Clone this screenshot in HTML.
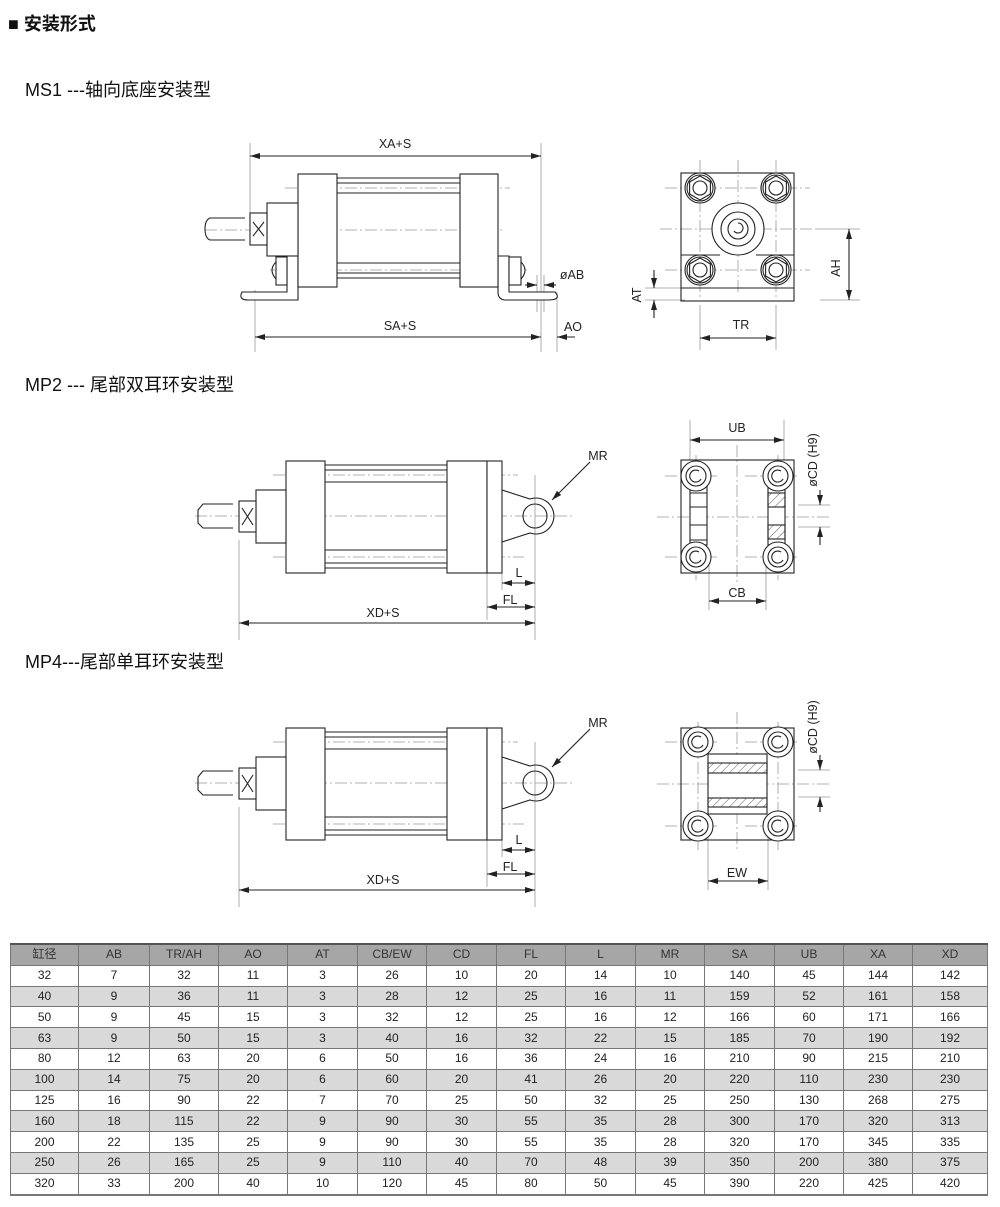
<!DOCTYPE html>
<html><head><meta charset="utf-8"><style>
html,body{margin:0;padding:0;background:#fff;}
body{width:1000px;height:1207px;position:relative;overflow:hidden;font-family:"Liberation Sans","Noto Sans CJK SC",sans-serif;}
.h{position:absolute;color:#111;white-space:nowrap;}
table{position:absolute;left:10px;top:943px;border-collapse:collapse;table-layout:fixed;width:977px;font-size:12px;color:#222;}
td{border:1px solid #777;height:19.8px;padding:0;text-align:center;line-height:19px;}
tr.hd td{background:#a6a6a6;color:#333;border-top:2px solid #555;}
tr.g td{background:#d9d9d9;}
tr:last-child td{border-bottom:2px solid #777;}
svg{position:absolute;left:0;top:0;}
svg text{font-family:"Liberation Sans",sans-serif;font-size:12.5px;fill:#222;}
</style></head><body>
<div class="h" style="left:8px;top:10px;font-size:18px;font-weight:bold;">■ 安装形式</div>
<div class="h" style="left:25px;top:76px;font-size:18px;">MS1 ---轴向底座安装型</div>
<div class="h" style="left:25px;top:371px;font-size:18px;">MP2 --- 尾部双耳环安装型</div>
<div class="h" style="left:25px;top:648px;font-size:18px;">MP4---尾部单耳环安装型</div>

<svg width="1000" height="1207" viewBox="0 0 1000 1207">
<defs>
<marker id="a" viewBox="0 0 10 6" refX="10" refY="3" markerWidth="10" markerHeight="6" orient="auto-start-reverse" markerUnits="userSpaceOnUse"><path d="M0,0 L10,3 L0,6z" fill="#222"/></marker>
<pattern id="hatch" width="6" height="6" patternUnits="userSpaceOnUse" patternTransform="rotate(45)"><line x1="0" y1="0" x2="0" y2="6" stroke="#555" stroke-width="1"/></pattern>
<g id="bolt" fill="none" stroke="#222" stroke-width="1.1"><circle r="15" fill="#fff"/><circle r="13"/><path d="M0,-12 L10.4,-6 L10.4,6 L0,12 L-10.4,6 L-10.4,-6Z"/><circle r="7"/></g>
<g id="pin" fill="none" stroke="#222" stroke-width="1.1"><circle r="15" fill="#fff"/><circle r="10"/><path d="M3,-5 A6,6 0 1 0 5,3"/></g>
</defs>
<g fill="none" stroke="#222" stroke-width="1.1">
<!-- MS1 side -->
<g stroke="#999" stroke-width="0.8" stroke-dasharray="12 3 2 3">
<line x1="205" y1="230" x2="505" y2="230"/><line x1="285" y1="188" x2="510" y2="188"/><line x1="270" y1="270" x2="530" y2="270"/>
</g>
<g stroke="#999" stroke-width="0.8">
<line x1="250" y1="143" x2="250" y2="240"/><line x1="541" y1="143" x2="541" y2="352"/><line x1="255" y1="290" x2="255" y2="352"/><line x1="557" y1="292" x2="557" y2="352"/><line x1="537" y1="275" x2="537" y2="312"/><line x1="544" y1="275" x2="544" y2="312"/>
</g>
<path d="M287,256 L298,256 L298,300 L248,300 Q238,300 242,292 L287,292 Z" fill="#fff"/>
<path d="M498,256 L509,256 L509,292 L555,292 Q562,300 548,300 L506,300 Q498,300 498,292 Z" fill="#fff"/>
<rect x="298" y="174" width="39" height="113" fill="#fff"/>
<rect x="460" y="174" width="38" height="113" fill="#fff"/>
<line x1="337" y1="178" x2="460" y2="178"/><line x1="337" y1="183" x2="460" y2="183"/><line x1="337" y1="193" x2="460" y2="193"/>
<line x1="337" y1="263" x2="460" y2="263"/><line x1="337" y1="273" x2="460" y2="273"/><line x1="337" y1="278" x2="460" y2="278"/>
<rect x="267" y="203" width="31" height="53" fill="#fff"/>
<rect x="250" y="213" width="17" height="32" fill="#fff"/>
<path d="M253,222 L264,236 M264,222 L253,236"/>
<path d="M245,218 L210,218 Q205,220 205,229 Q205,238 210,240 L245,240"/>
<rect x="276" y="257" width="11" height="28" fill="#fff"/><path d="M276,262 Q268,270 276,279"/>
<rect x="509" y="257" width="12" height="28" fill="#fff"/><path d="M521,262 Q529,270 521,279"/>
<line x1="250" y1="156" x2="541" y2="156" marker-start="url(#a)" marker-end="url(#a)"/>
<line x1="255" y1="337" x2="541" y2="337" marker-start="url(#a)" marker-end="url(#a)"/>
<line x1="575" y1="337" x2="557" y2="337" marker-end="url(#a)"/>
<line x1="525" y1="285" x2="537" y2="285" marker-end="url(#a)"/><line x1="556" y1="285" x2="544" y2="285" marker-end="url(#a)"/>

<!-- MS1 front -->
<g stroke="#999" stroke-width="0.8" stroke-dasharray="12 3 2 3">
<line x1="700" y1="160" x2="700" y2="300"/><line x1="776" y1="160" x2="776" y2="300"/><line x1="738" y1="160" x2="738" y2="295"/>
<line x1="660" y1="229" x2="815" y2="229"/><line x1="665" y1="188" x2="810" y2="188"/><line x1="665" y1="270" x2="810" y2="270"/>
</g>
<g stroke="#999" stroke-width="0.8"><line x1="700" y1="305" x2="700" y2="350"/><line x1="776" y1="305" x2="776" y2="350"/><line x1="815" y1="229" x2="860" y2="229"/><line x1="820" y1="300" x2="860" y2="300"/><line x1="645" y1="288" x2="685" y2="288"/><line x1="645" y1="300" x2="685" y2="300"/></g>
<rect x="681" y="173" width="113" height="128"/>
<line x1="681" y1="255" x2="720" y2="255"/><line x1="756" y1="255" x2="794" y2="255"/><line x1="681" y1="288" x2="794" y2="288"/>
<circle cx="738" cy="229" r="26" fill="#fff"/><circle cx="738" cy="229" r="17"/><circle cx="738" cy="229" r="10"/><path d="M738,223 a5,5 0 1 1 -4,8"/>
<use href="#bolt" x="700" y="188"/><use href="#bolt" x="776" y="188"/><use href="#bolt" x="700" y="270"/><use href="#bolt" x="776" y="270"/>
<line x1="849" y1="229" x2="849" y2="300" marker-start="url(#a)" marker-end="url(#a)"/>
<line x1="654" y1="270" x2="654" y2="288" marker-end="url(#a)"/><line x1="654" y1="318" x2="654" y2="300" marker-end="url(#a)"/>
<line x1="700" y1="338" x2="776" y2="338" marker-start="url(#a)" marker-end="url(#a)"/>

<!-- MP2 side -->
<g id="mp">
<g stroke="#999" stroke-width="0.8" stroke-dasharray="12 3 2 3">
<line x1="195" y1="516" x2="572" y2="516"/><line x1="273" y1="475" x2="518" y2="475"/><line x1="273" y1="557" x2="524" y2="557"/>
</g>
<g stroke="#999" stroke-width="0.8"><line x1="239" y1="540" x2="239" y2="640"/><line x1="535" y1="475" x2="535" y2="640"/><line x1="487" y1="573" x2="487" y2="620"/><line x1="502" y1="573" x2="502" y2="590"/></g>
<rect x="286" y="461" width="39" height="112" fill="#fff"/>
<rect x="447" y="461" width="40" height="112" fill="#fff"/>
<rect x="487" y="461" width="15" height="112" fill="#fff"/>
<line x1="325" y1="465" x2="447" y2="465"/><line x1="325" y1="470" x2="447" y2="470"/><line x1="325" y1="482" x2="447" y2="482"/>
<line x1="325" y1="550" x2="447" y2="550"/><line x1="325" y1="563" x2="447" y2="563"/><line x1="325" y1="568" x2="447" y2="568"/>
<rect x="256" y="490" width="30" height="53" fill="#fff"/>
<rect x="239" y="501" width="17" height="31" fill="#fff"/>
<path d="M242,508 L253,525 M253,508 L242,525"/>
<path d="M233,504 L203,504 L198,510 L198,523 L203,528 L233,528"/>
<path d="M502,490 L530,499 A18,18 0 1 1 530,533 L502,542"/>
<circle cx="535" cy="516" r="12"/>
<line x1="590" y1="462" x2="552" y2="500" marker-end="url(#a)"/>
<line x1="502" y1="583" x2="535" y2="583" marker-start="url(#a)" marker-end="url(#a)"/>
<line x1="487" y1="607" x2="535" y2="607" marker-start="url(#a)" marker-end="url(#a)"/>
<line x1="239" y1="623" x2="535" y2="623" marker-start="url(#a)" marker-end="url(#a)"/>
</g>
<use href="#mp" x="0" y="267"/>

<!-- MP2 front -->
<g stroke="#999" stroke-width="0.8" stroke-dasharray="12 3 2 3">
<line x1="737" y1="445" x2="737" y2="585"/><line x1="657" y1="517" x2="830" y2="517"/>
<line x1="665" y1="476" x2="720" y2="476"/><line x1="745" y1="476" x2="800" y2="476"/><line x1="665" y1="557" x2="720" y2="557"/><line x1="745" y1="557" x2="800" y2="557"/>
<line x1="696" y1="455" x2="696" y2="580"/><line x1="778" y1="455" x2="778" y2="580"/>
</g>
<g stroke="#999" stroke-width="0.8"><line x1="690" y1="420" x2="690" y2="460"/><line x1="784" y1="420" x2="784" y2="460"/><line x1="709" y1="560" x2="709" y2="610"/><line x1="766" y1="560" x2="766" y2="610"/><line x1="798" y1="505" x2="830" y2="505"/><line x1="798" y1="527" x2="830" y2="527"/></g>
<rect x="681" y="460" width="113" height="113"/>
<rect x="690" y="487" width="17" height="58" fill="#fff"/>
<path d="M690,493 L707,493 M690,507 L707,507 M690,525 L707,525 M690,540 L707,540"/>
<rect x="768" y="487" width="17" height="58" fill="#fff"/>
<rect x="768" y="493" width="17" height="14" fill="url(#hatch)"/><rect x="768" y="525" width="17" height="14" fill="url(#hatch)"/>
<use href="#pin" x="696" y="476"/><use href="#pin" x="778" y="476"/><use href="#pin" x="696" y="557"/><use href="#pin" x="778" y="557"/>
<line x1="690" y1="440" x2="784" y2="440" marker-start="url(#a)" marker-end="url(#a)"/>
<line x1="709" y1="601" x2="766" y2="601" marker-start="url(#a)" marker-end="url(#a)"/>
<line x1="820" y1="490" x2="820" y2="505" marker-end="url(#a)"/><line x1="820" y1="545" x2="820" y2="527" marker-end="url(#a)"/>

<!-- MP4 front -->
<g stroke="#999" stroke-width="0.8" stroke-dasharray="12 3 2 3">
<line x1="737" y1="712" x2="737" y2="850"/><line x1="657" y1="784" x2="830" y2="784"/>
<line x1="665" y1="742" x2="720" y2="742"/><line x1="745" y1="742" x2="800" y2="742"/><line x1="665" y1="826" x2="720" y2="826"/><line x1="745" y1="826" x2="800" y2="826"/>
<line x1="698" y1="722" x2="698" y2="850"/><line x1="778" y1="722" x2="778" y2="850"/>
</g>
<g stroke="#999" stroke-width="0.8"><line x1="708" y1="830" x2="708" y2="890"/><line x1="768" y1="830" x2="768" y2="890"/><line x1="798" y1="770" x2="830" y2="770"/><line x1="798" y1="797" x2="830" y2="797"/></g>
<rect x="681" y="728" width="113" height="112"/>
<rect x="708" y="754" width="59" height="60" fill="#fff"/>
<rect x="708" y="763" width="59" height="10" fill="url(#hatch)"/><rect x="708" y="798" width="59" height="9" fill="url(#hatch)"/>
<use href="#pin" x="698" y="742"/><use href="#pin" x="778" y="742"/><use href="#pin" x="698" y="826"/><use href="#pin" x="778" y="826"/>
<line x1="708" y1="881" x2="768" y2="881" marker-start="url(#a)" marker-end="url(#a)"/>
<line x1="820" y1="755" x2="820" y2="770" marker-end="url(#a)"/><line x1="820" y1="812" x2="820" y2="797" marker-end="url(#a)"/>
</g>

<g>
<text x="395" y="148" text-anchor="middle">XA+S</text>
<text x="400" y="330" text-anchor="middle">SA+S</text>
<text x="573" y="331" text-anchor="middle">AO</text>
<text x="572" y="279" text-anchor="middle">øAB</text>
<text x="741" y="329" text-anchor="middle">TR</text>
<text transform="translate(840,268) rotate(-90)" text-anchor="middle">AH</text>
<text transform="translate(641,295) rotate(-90)" text-anchor="middle">AT</text>
<text x="598" y="460" text-anchor="middle">MR</text>
<text x="519" y="577" text-anchor="middle">L</text>
<text x="510" y="604" text-anchor="middle">FL</text>
<text x="383" y="617" text-anchor="middle">XD+S</text>
<text x="598" y="727" text-anchor="middle">MR</text>
<text x="519" y="844" text-anchor="middle">L</text>
<text x="510" y="871" text-anchor="middle">FL</text>
<text x="383" y="884" text-anchor="middle">XD+S</text>
<text x="737" y="432" text-anchor="middle">UB</text>
<text x="737" y="597" text-anchor="middle">CB</text>
<text x="737" y="877" text-anchor="middle">EW</text>
<text transform="translate(817,460) rotate(-90)" text-anchor="middle">øCD (H9)</text>
<text transform="translate(817,727) rotate(-90)" text-anchor="middle">øCD (H9)</text>
</g>
</svg>

<table>
<colgroup><col style="width:68px"><col style="width:71px"><col style="width:69px"><col style="width:69px"><col style="width:70px"><col style="width:69px"><col style="width:70px"><col style="width:69px"><col style="width:70px"><col style="width:69px"><col style="width:70px"><col style="width:69px"><col style="width:69px"><col style="width:75px"></colgroup>
<tr class="hd"><td>缸径</td><td>AB</td><td>TR/AH</td><td>AO</td><td>AT</td><td>CB/EW</td><td>CD</td><td>FL</td><td>L</td><td>MR</td><td>SA</td><td>UB</td><td>XA</td><td>XD</td></tr>
<tr><td>32</td><td>7</td><td>32</td><td>11</td><td>3</td><td>26</td><td>10</td><td>20</td><td>14</td><td>10</td><td>140</td><td>45</td><td>144</td><td>142</td></tr>
<tr class="g"><td>40</td><td>9</td><td>36</td><td>11</td><td>3</td><td>28</td><td>12</td><td>25</td><td>16</td><td>11</td><td>159</td><td>52</td><td>161</td><td>158</td></tr>
<tr><td>50</td><td>9</td><td>45</td><td>15</td><td>3</td><td>32</td><td>12</td><td>25</td><td>16</td><td>12</td><td>166</td><td>60</td><td>171</td><td>166</td></tr>
<tr class="g"><td>63</td><td>9</td><td>50</td><td>15</td><td>3</td><td>40</td><td>16</td><td>32</td><td>22</td><td>15</td><td>185</td><td>70</td><td>190</td><td>192</td></tr>
<tr><td>80</td><td>12</td><td>63</td><td>20</td><td>6</td><td>50</td><td>16</td><td>36</td><td>24</td><td>16</td><td>210</td><td>90</td><td>215</td><td>210</td></tr>
<tr class="g"><td>100</td><td>14</td><td>75</td><td>20</td><td>6</td><td>60</td><td>20</td><td>41</td><td>26</td><td>20</td><td>220</td><td>110</td><td>230</td><td>230</td></tr>
<tr><td>125</td><td>16</td><td>90</td><td>22</td><td>7</td><td>70</td><td>25</td><td>50</td><td>32</td><td>25</td><td>250</td><td>130</td><td>268</td><td>275</td></tr>
<tr class="g"><td>160</td><td>18</td><td>115</td><td>22</td><td>9</td><td>90</td><td>30</td><td>55</td><td>35</td><td>28</td><td>300</td><td>170</td><td>320</td><td>313</td></tr>
<tr><td>200</td><td>22</td><td>135</td><td>25</td><td>9</td><td>90</td><td>30</td><td>55</td><td>35</td><td>28</td><td>320</td><td>170</td><td>345</td><td>335</td></tr>
<tr class="g"><td>250</td><td>26</td><td>165</td><td>25</td><td>9</td><td>110</td><td>40</td><td>70</td><td>48</td><td>39</td><td>350</td><td>200</td><td>380</td><td>375</td></tr>
<tr><td>320</td><td>33</td><td>200</td><td>40</td><td>10</td><td>120</td><td>45</td><td>80</td><td>50</td><td>45</td><td>390</td><td>220</td><td>425</td><td>420</td></tr>
</table>
</body></html>
